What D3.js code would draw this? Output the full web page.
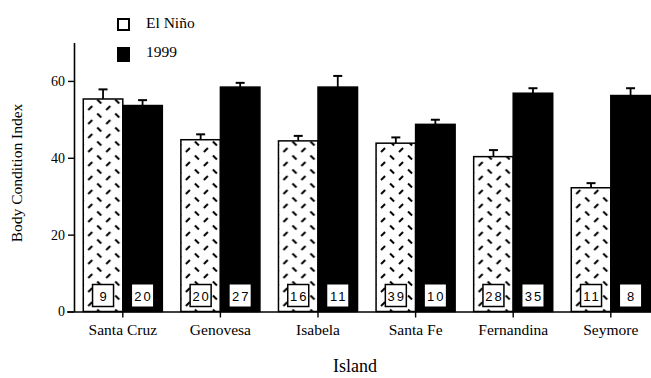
<!DOCTYPE html>
<html>

<head>
  <meta charset="utf-8">
  <script src="https://d3js.org/d3.v7.min.js"></script>
  <style>
    body {
      margin: 0;
      background: #fff;
    }

    .chart text {
      font-family: "Liberation Serif", "Times New Roman", serif;
      fill: #000;
    }

    .chart text.count {
      font-family: "Liberation Sans", Arial, sans-serif;
      font-size: 13px;
      letter-spacing: 2px;
    }
  </style>
</head>

<body>
  <div id="viz"></div>

  <script>
    // data
    const islands = ["Santa Cruz", "Genovesa", "Isabela", "Santa Fe", "Fernandina", "Seymore"];
    const series = ["El Niño", "1999"];
    const elNino = [55.3, 44.7, 44.4, 43.8, 40.3, 32.2];
    const elNinoSE = [2.5, 1.4, 1.3, 1.5, 1.7, 1.2];
    const y1999 = [53.6, 58.4, 58.4, 48.7, 56.8, 56.2];
    const y1999SE = [1.4, 1.1, 2.9, 1.2, 1.3, 1.9];
    const elNinoN = [9, 20, 16, 39, 28, 11];
    const y1999N = [20, 27, 11, 10, 35, 8];
    const yTicks = [0, 20, 40, 60];

    const width = 651, height = 378;

    const svg = d3.select("#viz")
      .append("svg")
      .attr("class", "chart")
      .attr("width", width)
      .attr("height", height);

    // hatch pattern of little dashes for the El Niño bars
    const pat = svg.append("defs").append("pattern")
      .attr("id", "hatch")
      .attr("patternUnits", "userSpaceOnUse")
      .attr("width", 18)
      .attr("height", 14)
      .attr("x", 84)
      .attr("y", 0);
    pat.append("rect").attr("width", 18).attr("height", 14).attr("fill", "#fff");
    pat.append("line").attr("x1", 2).attr("y1", 1.5).attr("x2", 6).attr("y2", 5.5)
      .attr("stroke", "#000").attr("stroke-width", 1.9);
    pat.append("line").attr("x1", 15).attr("y1", 8).attr("x2", 11).attr("y2", 12)
      .attr("stroke", "#000").attr("stroke-width", 1.9);

    const x = d3.scaleBand()
      .domain(islands)
      .range([74, 659.6])
      .paddingInner(0.19)
      .paddingOuter(0.095);

    const xSub = d3.scaleBand()
      .domain(series)
      .range([0, x.bandwidth()]);

    const y = d3.scaleLinear()
      .domain([0, 70])
      .range([311.5, 42.5]);

    const rows = islands.map((d, i) => ({
      island: d,
      vals: [
        { key: series[0], v: elNino[i], se: elNinoSE[i], n: elNinoN[i] },
        { key: series[1], v: y1999[i], se: y1999SE[i], n: y1999N[i] }
      ]
    }));

    const groups = svg.append("g")
      .selectAll("g")
      .data(rows)
      .enter().append("g")
      .attr("transform", d => `translate(${x(d.island)},0)`);

    const bar = groups.selectAll("g")
      .data(d => d.vals)
      .enter().append("g")
      .attr("transform", d => `translate(${xSub(d.key)},0)`);

    // error bars (upper half only)
    bar.append("line")
      .attr("x1", xSub.bandwidth() / 2)
      .attr("x2", xSub.bandwidth() / 2)
      .attr("y1", d => y(d.v))
      .attr("y2", d => y(d.v + d.se))
      .attr("stroke", "#000")
      .attr("stroke-width", 1.8);
    bar.append("line")
      .attr("x1", xSub.bandwidth() / 2 - 4.5)
      .attr("x2", xSub.bandwidth() / 2 + 4.5)
      .attr("y1", d => y(d.v + d.se))
      .attr("y2", d => y(d.v + d.se))
      .attr("stroke", "#000")
      .attr("stroke-width", 2);

    bar.append("rect")
      .attr("x", 0)
      .attr("y", d => y(d.v))
      .attr("width", xSub.bandwidth())
      .attr("height", d => y(0) - y(d.v))
      .attr("fill", d => d.key === series[0] ? "url(#hatch)" : "#000")
      .attr("stroke", "#000")
      .attr("stroke-width", 1.5);

    // sample size boxes
    bar.append("rect")
      .attr("x", xSub.bandwidth() / 2 - 10.5)
      .attr("y", y(0) - 27)
      .attr("width", 21)
      .attr("height", 22)
      .attr("fill", "#fff")
      .attr("stroke", d => d.key === series[0] ? "#000" : "none")
      .attr("stroke-width", 1.5);
    bar.append("text")
      .attr("class", "count")
      .attr("x", xSub.bandwidth() / 2 + 1)
      .attr("y", y(0) - 11)
      .attr("text-anchor", "middle")
      .text(d => d.n);

    // axes
    const yAxis = svg.append("g")
      .attr("transform", "translate(74,0)")
      .call(d3.axisLeft(y).tickValues(yTicks).tickSize(6).tickPadding(3).tickSizeOuter(0));
    yAxis.select(".domain").attr("stroke-width", 1.6);
    yAxis.selectAll(".tick line").attr("stroke-width", 1.4);
    yAxis.selectAll("text").style("font-size", "14px");

    const xAxis = svg.append("g")
      .attr("transform", `translate(0,${y(0)})`)
      .call(d3.axisBottom(x).tickSize(6).tickPadding(6).tickSizeOuter(0));
    xAxis.select(".domain").attr("d", `M67,0.5H651`).attr("stroke-width", 1.6);
    xAxis.selectAll(".tick line").attr("stroke-width", 1.4);
    xAxis.selectAll("text").style("font-size", "15.5px");

    // axis titles
    svg.append("text")
      .attr("text-anchor", "middle")
      .attr("transform", "translate(22,173) rotate(-90)")
      .style("font-size", "15.5px")
      .text("Body Condition Index");

    svg.append("text")
      .attr("text-anchor", "middle")
      .attr("x", 355)
      .attr("y", 372)
      .style("font-size", "18px")
      .text("Island");

    // legend
    const legend = svg.append("g");
    legend.append("rect")
      .attr("x", 118).attr("y", 19).attr("width", 11).attr("height", 11)
      .attr("fill", "url(#hatch)").attr("stroke", "#000").attr("stroke-width", 2);
    legend.append("rect")
      .attr("x", 117).attr("y", 47).attr("width", 13).attr("height", 15)
      .attr("fill", "#000");
    legend.selectAll("text.lg")
      .data(series)
      .enter().append("text")
      .attr("class", "lg")
      .attr("x", 146)
      .attr("y", (d, i) => 28 + i * 29)
      .style("font-size", "15.5px")
      .text(d => d);
  </script>
</body>

</html>
